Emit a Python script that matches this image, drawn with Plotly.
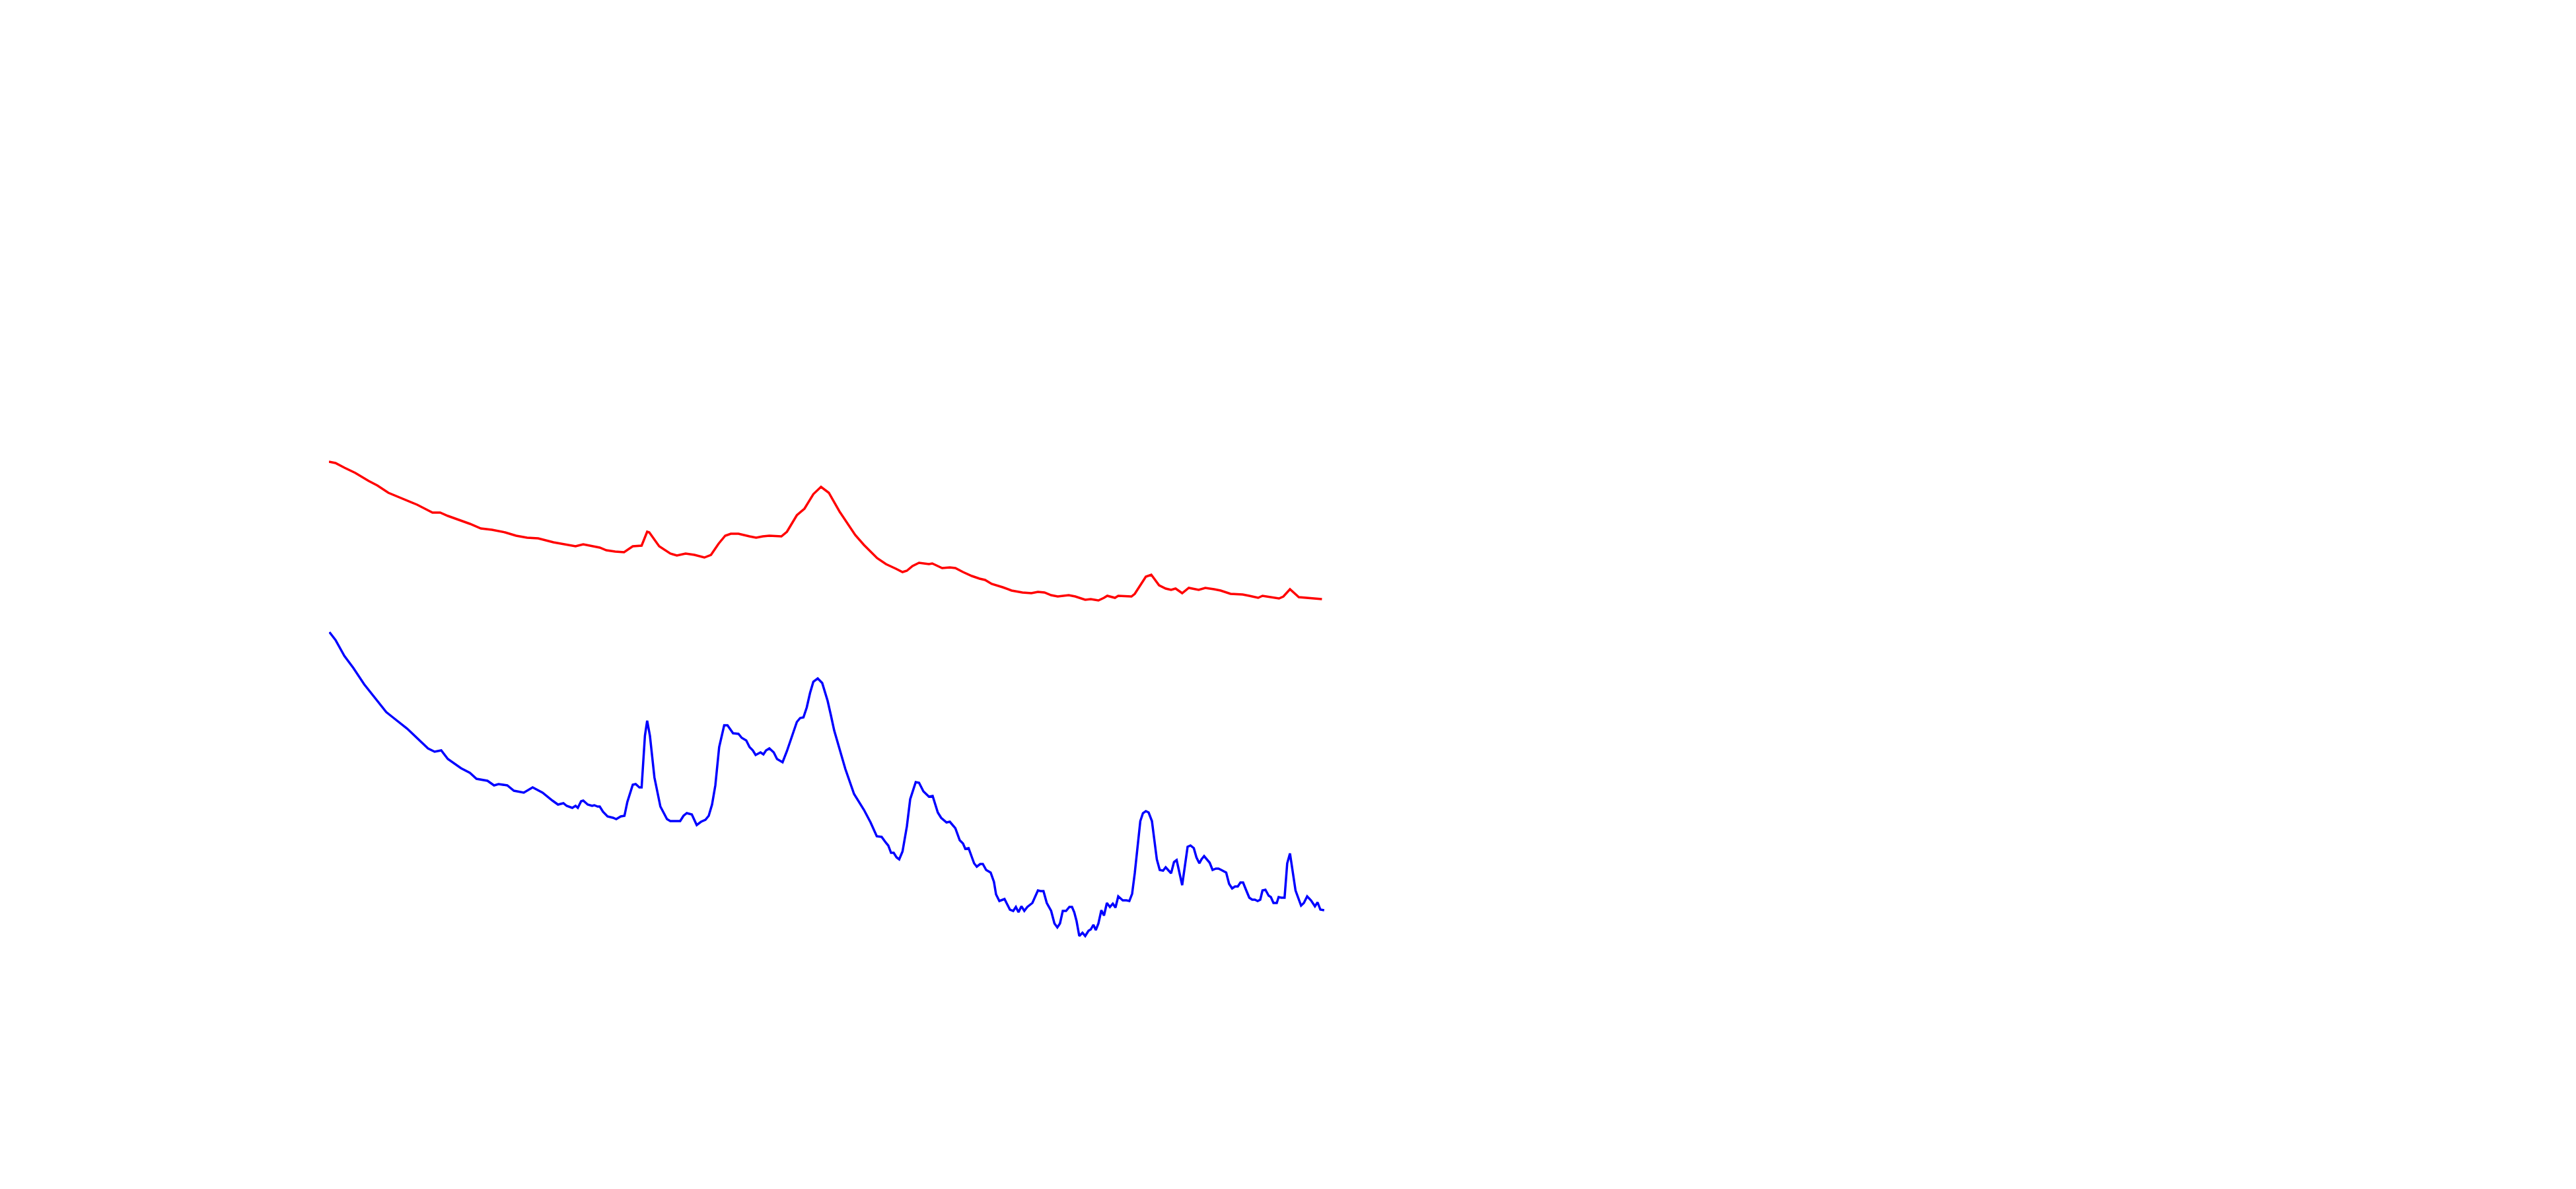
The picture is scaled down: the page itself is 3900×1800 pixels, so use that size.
import plotly.graph_objects as go

# Red trace (upper spectrum): 2-theta (deg) and intensity (a.u.)
red_x = [5.00, 5.50, 6.17, 7.00, 8.00, 8.67, 9.50, 10.67, 11.67, 12.84, 13.42, 14.00, 14.84, 15.67,
         16.50, 17.34, 18.34, 19.17, 20.00, 20.84, 22.00, 22.84, 23.67, 24.25, 24.84, 25.50, 26.00,
         26.67, 27.34, 28.00, 28.67, 29.09, 29.25, 30.00, 30.84, 31.34, 32.00, 32.67, 33.42, 33.92,
         34.50, 35.00, 35.42, 36.00, 36.84, 37.34, 37.84, 38.34, 39.25, 39.67, 40.42, 41.00, 41.67,
         42.25, 42.84, 43.67, 44.84, 45.50, 46.50, 47.17, 47.92, 48.42, 48.75, 49.17, 49.67, 50.42,
         50.67, 51.42, 52.00, 52.42, 53.00, 53.67, 54.25, 54.67, 55.17, 56.00, 56.67, 57.50, 58.17,
         58.67, 59.17, 59.67, 60.17, 61.00, 61.50, 62.25, 62.67, 63.25, 63.67, 63.92, 64.50, 64.75,
         65.75, 66.00, 66.84, 67.25, 67.84, 68.34, 68.75, 69.09, 69.59, 70.09, 70.84, 71.34, 72.00,
         72.50, 73.25, 74.17, 74.67, 75.34, 75.67, 76.50, 76.92, 77.25, 77.75, 78.42, 79.17, 80.17]
red_y = [909, 907, 900, 892, 880, 873, 862, 852, 844, 832, 832, 827, 821, 815,
         808, 806, 802, 797, 794, 793, 787, 784, 781, 784, 782, 779, 775,
         773, 772, 781, 782, 803, 802, 781, 770, 767, 770, 768, 764, 768,
         785, 797, 800, 800, 796, 794, 796, 797, 796, 803, 828, 838, 860,
         871, 862, 833, 798, 783, 763, 754, 747, 742, 744, 751, 756, 754,
         755, 748, 749, 748, 742, 736, 732, 730, 724, 719, 714, 711, 710,
         712, 711, 707, 705, 707, 705, 700, 701, 699, 703, 706, 703, 706,
         705, 709, 735, 738, 722, 717, 715, 717, 710, 718, 715, 718, 716,
         714, 709, 708, 706, 703, 706, 703, 702, 705, 716, 704, 703, 701]

# Blue trace (lower spectrum)
blue_x = [5.04, 5.50, 6.17, 6.84, 7.67, 8.67, 9.34, 9.84, 10.92, 11.34, 12.00, 12.50, 13.00, 13.50,
          14.00, 14.50, 15.00, 15.67, 16.17, 17.00, 17.50, 17.84, 18.50, 19.00, 19.75, 20.42, 21.17,
          21.92, 22.34, 22.75, 23.00, 23.42, 23.67, 23.84, 24.09, 24.25, 24.59, 24.92, 25.09, 25.34,
          25.50, 25.75, 26.09, 26.50, 26.75, 27.09, 27.37, 27.59, 28.00, 28.22, 28.50, 28.67, 28.92,
          29.09, 29.30, 29.64, 30.09, 30.59, 30.84, 31.17, 31.59, 31.84, 32.09, 32.47, 32.84, 33.17,
          33.50, 33.75, 34.00, 34.25, 34.54, 34.92, 35.17, 35.59, 36.00, 36.25, 36.59, 36.84, 37.09,
          37.30, 37.67, 37.89, 38.09, 38.34, 38.67, 38.92, 39.34, 39.67, 40.00, 40.42, 40.67, 40.92,
          41.17, 41.42, 41.67, 42.00, 42.34, 42.75, 43.00, 43.25, 44.09, 44.75, 45.50, 46.00, 46.47,
          46.84, 47.17, 47.34, 47.55, 47.75, 47.97, 48.17, 48.42, 48.75, 49.00, 49.42, 49.67, 50.00,
          50.42, 50.70, 51.09, 51.34, 51.75, 52.00, 52.17, 52.42, 52.75, 53.00, 53.17, 53.42, 53.84,
          54.04, 54.30, 54.50, 54.75, 55.09, 55.34, 55.50, 55.75, 56.14, 56.55, 56.80, 57.00, 57.20,
          57.42, 57.64, 57.87, 58.25, 58.67, 58.87, 59.09, 59.34, 59.67, 59.92, 60.14, 60.34, 60.55,
          60.80, 61.05, 61.25, 61.42, 61.59, 61.80, 62.04, 62.25, 62.50, 62.67, 62.87, 63.05, 63.25,
          63.47, 63.67, 63.89, 64.12, 64.34, 64.54, 64.75, 65.09, 65.37, 65.59, 65.80, 66.00, 66.42,
          66.62, 66.84, 67.05, 67.30, 67.67, 67.89, 68.14, 68.34, 68.55, 68.75, 68.97, 69.17, 69.59,
          70.00, 70.22, 70.47, 70.67, 70.89, 71.05, 71.25, 71.67, 71.89, 72.14, 72.34, 72.55, 72.92,
          73.14, 73.37, 73.59, 73.80, 74.00, 74.20, 74.42, 74.67, 74.89, 75.09, 75.30, 75.50, 75.67,
          75.89, 76.14, 76.30, 76.50, 76.75, 76.89, 77.09, 77.34, 77.54, 77.75, 77.97, 78.17, 78.59,
          78.80, 79.05, 79.34, 79.64, 79.84, 80.05, 80.34]
blue_y = [651, 639, 615, 597, 572, 547, 530, 522, 505, 497, 485, 475, 470, 472,
          459, 452, 445, 438, 429, 426, 419, 421, 419, 411, 408, 416, 408,
          396, 390, 392, 388, 385, 388, 385, 395, 396, 390, 388, 389, 387,
          387, 379, 372, 370, 368, 372, 373, 394, 420, 421, 416, 416, 494,
          517, 494, 431, 387, 368, 365, 365, 365, 373, 377, 375, 359, 364,
          367, 373, 390, 419, 477, 510, 510, 498, 497, 491, 487, 477, 472,
          465, 469, 466, 472, 475, 469, 459, 454, 471, 491, 515, 521, 522,
          537, 559, 576, 581, 574, 547, 525, 502, 444, 406, 382, 363, 342,
          341, 332, 328, 317, 317, 310, 307, 319, 357, 398, 424, 423, 410,
          402, 403, 378, 370, 363, 364, 360, 354, 336, 331, 323, 324, 301,
          296, 300, 300, 291, 287, 273, 254, 244, 247, 231, 229, 235, 227,
          236, 229, 235, 241, 260, 259, 259, 241, 229, 210, 204, 210, 229,
          229, 235, 235, 227, 214, 191, 196, 191, 199, 201, 208, 200, 210,
          230, 222, 241, 235, 240, 234, 251, 245, 245, 244, 255, 286, 365,
          377, 380, 378, 365, 307, 291, 290, 295, 291, 286, 303, 306, 268,
          326, 328, 324, 310, 301, 307, 312, 302, 291, 293, 293, 291, 287,
          270, 263, 266, 266, 272, 272, 261, 249, 246, 246, 244, 246, 260,
          261, 252, 250, 241, 241, 250, 249, 249, 301, 316, 286, 260, 237,
          241, 251, 245, 236, 242, 231, 230]

fig = go.Figure()
fig.add_trace(go.Scatter(x=red_x, y=red_y, mode="lines",
                         line=dict(color="#ff0000", width=3.5), showlegend=False, hoverinfo="skip"))
fig.add_trace(go.Scatter(x=blue_x, y=blue_y, mode="lines",
                         line=dict(color="#0000ff", width=3.5), showlegend=False, hoverinfo="skip"))

fig.update_layout(
    width=3900, height=1800,
    margin=dict(l=490, r=1900, t=600, b=200),
    paper_bgcolor="white", plot_bgcolor="white",
    xaxis=dict(range=[5, 80.5], visible=False, showgrid=False, zeroline=False),
    yaxis=dict(range=[0, 1000], visible=False, showgrid=False, zeroline=False),
)

fig.write_html("out.html")
